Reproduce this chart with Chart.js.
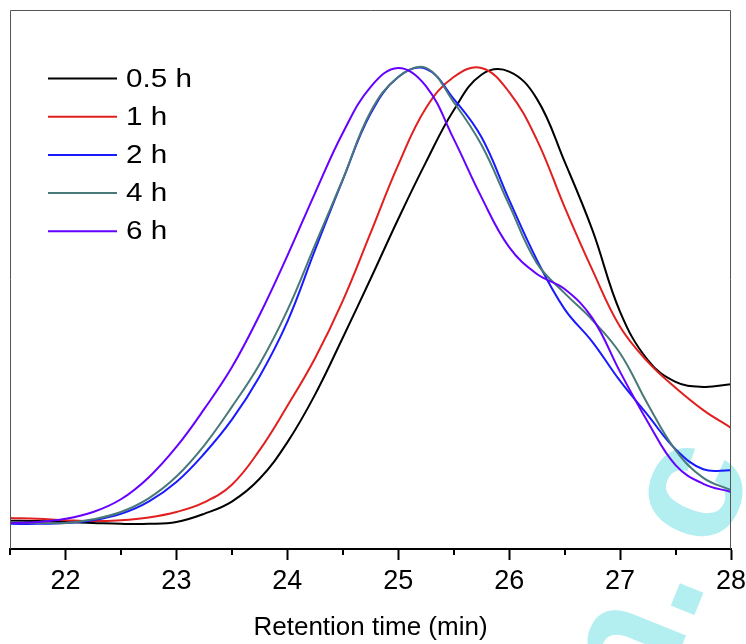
<!DOCTYPE html>
<html>
<head>
<meta charset="utf-8">
<title>GPC retention time</title>
<script src="https://cdn.jsdelivr.net/npm/chart.js@4.4.1/dist/chart.umd.min.js"></script>
<style>
    html, body { margin: 0; padding: 0; background: #fff; }
    #wrap { width: 746px; height: 644px; }
</style>
</head>
<body>
<div id="wrap"><canvas id="chart-gpc" width="746" height="644"></canvas></div>
<script>
// retention time grid (min)
const times = [21.5, 21.75, 22, 22.25, 22.5, 22.75, 23, 23.25, 23.5, 23.75, 24, 24.25, 24.5,
    24.75, 25, 25.25, 25.5, 25.75, 26, 26.25, 26.5, 26.75, 27, 27.25, 27.5, 27.75, 28];

// normalized detector response per polymerization time
const h05 = [0.003, 0.002, 0.000, -0.002, -0.004, -0.004, 0.000, 0.018, 0.045, 0.095, 0.175, 0.280, 0.405,
    0.534, 0.666, 0.791, 0.905, 0.983, 0.990, 0.930, 0.792, 0.642, 0.462, 0.356, 0.308, 0.297, 0.303];
const h1 = [0.009, 0.007, 0.004, 0.002, 0.004, 0.010, 0.022, 0.043, 0.082, 0.158, 0.255, 0.360, 0.486,
    0.635, 0.785, 0.910, 0.978, 0.998, 0.945, 0.840, 0.692, 0.554, 0.429, 0.352, 0.295, 0.246, 0.207];
const h2 = [-0.004, -0.004, -0.002, 0.004, 0.018, 0.045, 0.088, 0.150, 0.225, 0.320, 0.440, 0.598, 0.752,
    0.897, 0.978, 0.996, 0.930, 0.846, 0.708, 0.576, 0.468, 0.396, 0.310, 0.235, 0.160, 0.116, 0.114];
const h4 = [0.000, -0.002, -0.002, 0.006, 0.022, 0.052, 0.100, 0.168, 0.253, 0.347, 0.465, 0.609, 0.753,
    0.901, 0.978, 0.998, 0.923, 0.829, 0.697, 0.569, 0.503, 0.444, 0.371, 0.259, 0.158, 0.097, 0.070];
const h6 = [-0.002, 0.000, 0.007, 0.022, 0.050, 0.098, 0.165, 0.248, 0.340, 0.455, 0.585, 0.723, 0.855,
    0.956, 0.998, 0.958, 0.842, 0.714, 0.604, 0.545, 0.512, 0.448, 0.330, 0.220, 0.125, 0.084, 0.066];

const seriesLabels = ['0.5 h', '1 h', '2 h', '4 h', '6 h'];
const seriesColors = ['#000000', '#e0201e', '#1a1aff', '#487878', '#6600ff'];
const xTickLabels = ['22', '23', '24', '25', '26', '27', '28'];

const FONT = "Arial, 'Liberation Sans', sans-serif";

// faint site stamp, sits under the curves
const watermark = {
    id: 'watermark',
    beforeDraw(chart) {
        const ctx = chart.ctx;
        ctx.save();
        ctx.translate(651, 722);
        ctx.rotate(-68 * Math.PI / 180);
        ctx.font = 'bold 170px ' + FONT;
        ctx.fillStyle = '#b3eef0';
        ctx.textBaseline = 'alphabetic';
        ctx.fillText('n.', 0, 0);
        ctx.fillText('c', 181, 0);
        ctx.restore();
    }
};

// thin box round the plot + half-unit minor ticks
const frame = {
    id: 'frame',
    afterDraw(chart) {
        const { ctx, chartArea: a } = chart;
        const xs = chart.scales.x;
        ctx.save();
        ctx.lineWidth = 1;
        ctx.strokeStyle = '#555';
        ctx.beginPath();
        ctx.moveTo(a.left + 0.5, a.bottom);
        ctx.lineTo(a.left + 0.5, a.top + 0.5);
        ctx.lineTo(a.right - 0.5, a.top + 0.5);
        ctx.lineTo(a.right - 0.5, a.bottom);
        ctx.stroke();

        ctx.lineWidth = 2;
        ctx.strokeStyle = '#000';
        for (let v = 21.5; v < 28; v += 1) {
            const px = Math.round(xs.getPixelForValue(v));
            ctx.beginPath();
            ctx.moveTo(px, a.bottom);
            ctx.lineTo(px, a.bottom + 6);
            ctx.stroke();
        }
        ctx.restore();
    }
};

// legend drawn inside the plot, upper left
const insideLegend = {
    id: 'insideLegend',
    afterDraw(chart) {
        const ctx = chart.ctx;
        ctx.save();
        ctx.textBaseline = 'middle';
        chart.data.datasets.forEach((ds, i) => {
            const y = 78.5 + i * 38.2;
            ctx.strokeStyle = ds.borderColor;
            ctx.lineWidth = 2;
            ctx.beginPath();
            ctx.moveTo(48, y);
            ctx.lineTo(117, y);
            ctx.stroke();
            // text in the source runs a little wide
            ctx.save();
            ctx.translate(126, y + 1);
            ctx.scale(1.14, 1);
            ctx.font = '26px ' + FONT;
            ctx.fillStyle = '#000';
            ctx.fillText(ds.label, 0, 0);
            ctx.restore();
        });
        ctx.restore();
    }
};

const series = [h05, h1, h2, h4, h6];

const ctx = document.getElementById('chart-gpc').getContext('2d');
new Chart(ctx, {
    type: 'line',
    data: {
        datasets: series.map((vals, i) => ({
            label: seriesLabels[i],
            data: times.map((t, k) => ({ x: t, y: vals[k] })),
            borderColor: seriesColors[i],
            borderWidth: 2,
            pointRadius: 0,
            fill: false,
            tension: 0.4,
            order: series.length - i
        }))
    },
    options: {
        responsive: false,
        animation: false,
        devicePixelRatio: 1,
        layout: { padding: { left: 10, top: 10, right: 15, bottom: 0 } },
        plugins: {
            legend: { display: false },
            tooltip: { enabled: false }
        },
        scales: {
            x: {
                type: 'linear',
                min: 21.5,
                max: 28,
                afterFit: (scale) => {
                    scale.height = 95;
                    scale.paddingLeft = 0;
                    scale.paddingRight = 15;
                },
                border: { display: true, color: '#000', width: 2 },
                grid: {
                    drawOnChartArea: false,
                    drawTicks: true,
                    tickLength: 11,
                    tickWidth: 2,
                    tickColor: (c) => Number.isInteger(c.tick && c.tick.value) ? '#000' : 'rgba(0,0,0,0)'
                },
                ticks: {
                    stepSize: 0.5,
                    autoSkip: false,
                    maxRotation: 0,
                    padding: 5,
                    color: '#000',
                    font: { family: FONT, size: 27 },
                    callback: (v) => xTickLabels.includes(String(v)) ? String(v) : ''
                },
                title: {
                    display: true,
                    text: 'Retention time (min)',
                    color: '#000',
                    font: { family: FONT, size: 26 },
                    padding: { top: 0, bottom: 1 }
                }
            },
            y: {
                display: false,
                min: -0.0593,
                max: 1.1253
            }
        }
    },
    plugins: [watermark, frame, insideLegend]
});
</script>
</body>
</html>
